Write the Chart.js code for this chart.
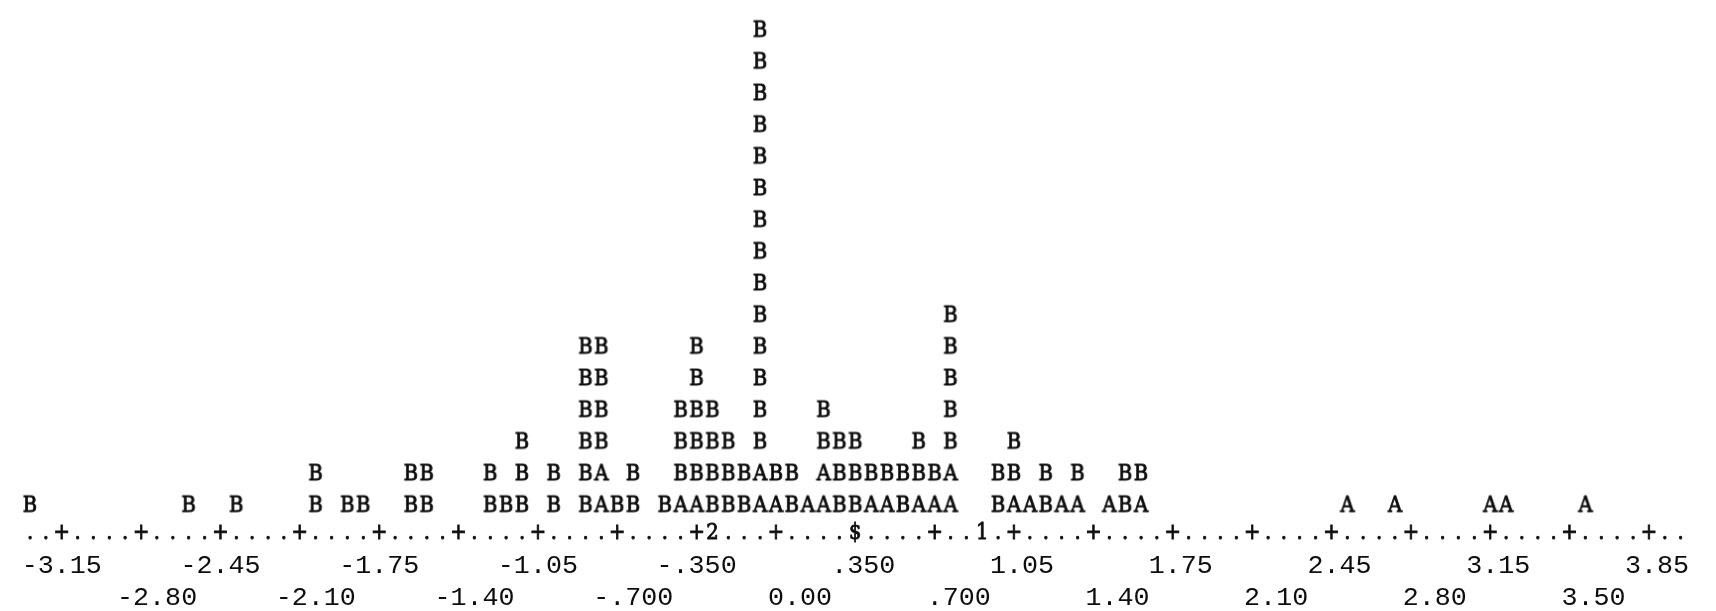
<!DOCTYPE html>
<html>
<head>
<meta charset="utf-8">
<script src="https://cdn.jsdelivr.net/npm/chart.js@4.4.1/dist/chart.umd.min.js"></script>
<style>
    html, body { margin: 0; padding: 0; background: #fff; }
    #plot { display: block; }
</style>
</head>
<body>
<canvas id="plot" width="1716" height="611"></canvas>
<script>
// x position of each printed column, and the letters stacked in it (bottom to top)
const binCenters = [
    -3.29, -2.59, -2.38, -2.03, -1.89, -1.82, -1.61, -1.54,
    -1.26, -1.19, -1.12, -0.98, -0.84, -0.77, -0.70, -0.63,
    -0.49, -0.42, -0.35, -0.28, -0.21, -0.14, -0.07, 0.00,
    0.07, 0.14, 0.21, 0.28, 0.35, 0.42, 0.49, 0.56,
    0.63, 0.70, 0.77, 0.98, 1.05, 1.12, 1.19, 1.26,
    1.33, 1.47, 1.54, 1.61, 2.52, 2.73, 3.15, 3.22, 3.57,
];
const stacks = [
    'B', 'B', 'B', 'BB', 'B', 'B', 'BB', 'BB',
    'BB', 'B', 'BBB', 'BB', 'BBBBBB', 'AABBBB', 'B', 'BB',
    'B', 'ABBB', 'ABBBBB', 'BBBB', 'BBB', 'BB', 'AABBBBBBBBBBBBBB', 'AB',
    'BB', 'A', 'AABB', 'BBB', 'BBB', 'AB', 'AB', 'BB',
    'ABB', 'AB', 'AABBBBB', 'BB', 'ABB', 'A', 'BB', 'A',
    'AB', 'A', 'BB', 'AB', 'A', 'A', 'A', 'A', 'A',
];
const groups = ['A', 'B'];

const tickValues = [
    -3.15, -2.80, -2.45, -2.10, -1.75, -1.40, -1.05, -0.70, -0.35, 0.00, 0.35,
    0.70, 1.05, 1.40, 1.75, 2.10, 2.45, 2.80, 3.15, 3.50, 3.85,
];
const tickLabels = [
    '-3.15', '-2.80', '-2.45', '-2.10', '-1.75', '-1.40', '-1.05', '-.700', '-.350', '0.00', '.350',
    '.700', '1.05', '1.40', '1.75', '2.10', '2.45', '2.80', '3.15', '3.50', '3.85',
];
// symbols printed on the axis line
const axisMarks = [
    { value: -0.28, text: '2' },
    { value: 0.35, text: '$' },
    { value: 0.91, text: '1' },
];

const colStep = 0.07;
const ink = '#0d0d0d';
const glyphFont = '22.5px "DejaVu Serif", "Liberation Serif", serif';
const labelFamily = '"Liberation Mono", "DejaVu Sans Mono", monospace';
const labelSize = 26.7;

// serif glyph squeezed a little to sit in one printer cell, inked a bit heavier
const drawGlyph = (g, ch, x, baseline) => {
    g.save();
    g.translate(x, baseline);
    g.scale(0.87, 1);
    g.fillText(ch, 0, 0);
    g.strokeText(ch, 0, 0);
    g.restore();
};

const letterImage = (letter) => {
    const c = document.createElement('canvas');
    c.width = 24;
    c.height = 32;
    const g = c.getContext('2d');
    g.font = glyphFont;
    g.fillStyle = ink;
    g.strokeStyle = ink;
    g.lineWidth = 0.9;
    g.textAlign = 'center';
    const asc = g.measureText(letter).actualBoundingBoxAscent;
    drawGlyph(g, letter, 12, 16 + asc / 2);
    return c;
};

const pointsFor = (letter) => {
    const pts = [];
    binCenters.forEach((x, i) => {
        [...stacks[i]].forEach((ch, row) => {
            if (ch === letter) {
                pts.push({ x, y: row + 1 });
            }
        });
    });
    return pts;
};

const axisRow = {
    id: 'axisRow',
    afterDraw(chart) {
        const { ctx } = chart;
        const xs = chart.scales.x;
        const ys = chart.scales.y;
        const base = ys.getPixelForValue(0) + 4;
        const first = tickValues[0];
        ctx.save();
        ctx.font = glyphFont;
        ctx.fillStyle = ink;
        ctx.strokeStyle = ink;
        ctx.lineWidth = 0.9;
        ctx.textAlign = 'center';
        ctx.textBaseline = 'alphabetic';
        for (let c = -2; c <= 102; c++) {
            const v = first + c * colStep;
            const mark = axisMarks.find((m) => Math.abs(m.value - v) < 0.001);
            const onTick = tickValues.some((t) => Math.abs(t - v) < 0.001);
            const ch = mark ? mark.text : (onTick ? '+' : '.');
            drawGlyph(ctx, ch, xs.getPixelForValue(v), base);
        }
        ctx.restore();
    },
};

const buildChart = () => {
    new Chart(document.getElementById('plot'), {
        type: 'scatter',
        data: {
            datasets: groups.map((g) => ({
                label: g,
                data: pointsFor(g),
                pointStyle: letterImage(g),
                pointRadius: 8,
                showLine: false,
            })),
        },
        options: {
            responsive: false,
            animation: false,
            events: [],
            layout: { padding: 0 },
            plugins: {
                legend: { display: false },
                tooltip: { enabled: false },
            },
            scales: {
                x: {
                    type: 'linear',
                    min: -3.3826,
                    max: 4.1062,
                    grid: { display: false, drawTicks: false },
                    border: { display: false },
                    afterBuildTicks: (scale) => {
                        scale.ticks = tickValues.map((value) => ({ value }));
                    },
                    afterFit: (scale) => {
                        scale.height = 63;
                    },
                    ticks: {
                        autoSkip: false,
                        maxRotation: 0,
                        minRotation: 0,
                        padding: 2,
                        color: ink,
                        font: { family: labelFamily, size: labelSize, lineHeight: 1.2 },
                        callback: (value, index) => (index % 2 === 0
                            ? [tickLabels[index].padStart(5), '']
                            : ['', tickLabels[index].padStart(7)]),
                    },
                },
                y: {
                    display: false,
                    min: -0.3975,
                    max: 16.621,
                },
            },
        },
        plugins: [axisRow],
    });
};

document.fonts.load(glyphFont).then(buildChart, buildChart);
</script>
</body>
</html>
